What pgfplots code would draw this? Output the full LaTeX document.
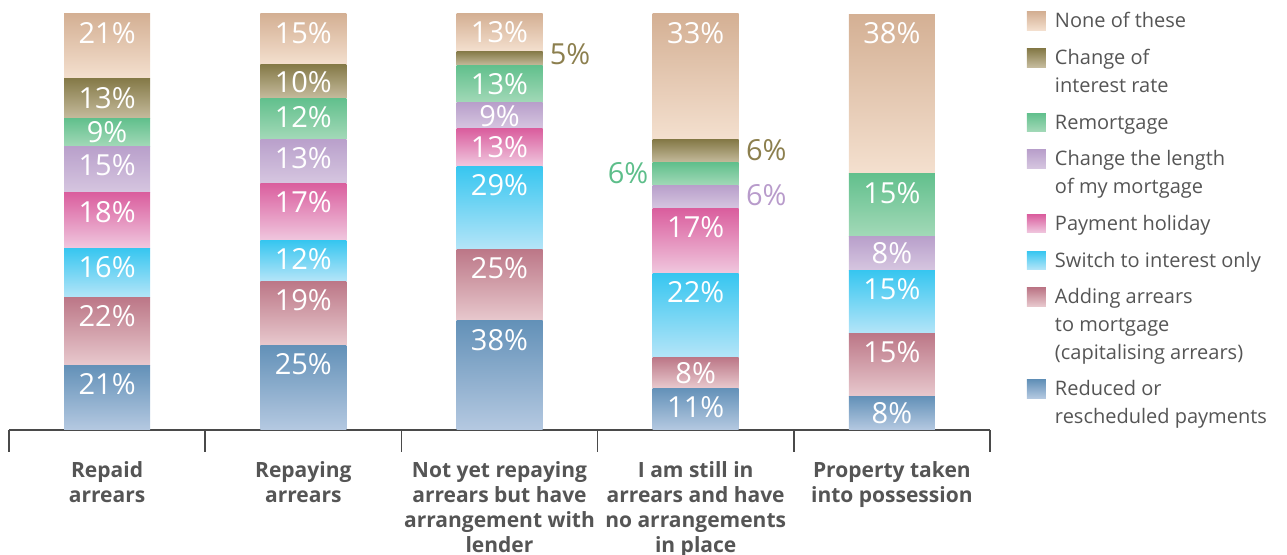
\documentclass[border=0pt]{standalone}
\usepackage{fontspec}
\setmainfont{Open Sans}
\usepackage{pgfplots}
\usepackage{pgfplotstable}
\pgfplotsset{compat=1.18}

\definecolor{noneT}{HTML}{D4B094} \definecolor{noneB}{HTML}{F4E0CF}
\definecolor{intT}{HTML}{857A48}  \definecolor{intB}{HTML}{C6BC9E}
\definecolor{remT}{HTML}{62C08D}  \definecolor{remB}{HTML}{A3D9B8}
\definecolor{lenT}{HTML}{B9A0CB}  \definecolor{lenB}{HTML}{D6C6E0}
\definecolor{payT}{HTML}{DA5E9E}  \definecolor{payB}{HTML}{F0C8DF}
\definecolor{swT}{HTML}{37C6F0}   \definecolor{swB}{HTML}{B5E5F8}
\definecolor{addT}{HTML}{BC7787}  \definecolor{addB}{HTML}{E8C9CE}
\definecolor{redT}{HTML}{6391B8}  \definecolor{redB}{HTML}{B5C9E1}
\definecolor{axisgray}{HTML}{4A4A4A}
\definecolor{textgray}{HTML}{555555}
\definecolor{intL}{HTML}{8C7F4E}
\definecolor{remL}{HTML}{5DBE8A}
\definecolor{lenL}{HTML}{B89BCB}

% values in %, bottom to top; t = total of the bar (bars are scaled to full height)
% a negative value marks a segment whose label is written outside the bar
\pgfplotstableread{
x t   red add sw pay len rem int none
0 135 21  22  16 18  15  9   13  21
1 123 25  19  12 17  13  12  10  15
2 145 38  25  29 13  9   13  -5  13
3 109 11  8   22 17  -6  -6  -6  33
4 99  8   15  15 0   8   15  0   38
}\data

\pgfplotsset{
  seg/.style={visualization depends on={abs(\thisrow{#1})*100/\thisrow{t} \as \segh}},
  only/.style={x filter/.expression={x==#1 ? x : nan}},
  base/.style={
    at={(0,0)}, anchor=south west,
    scale only axis, width=490.5pt, height=208pt,
    ybar stacked, bar width=43pt,
    xmin=-0.5, xmax=4.5, ymin=0, ymax=100,
    enlargelimits=false, clip=false,
    point meta=explicit symbolic,
    nodes near coords={\pgfmathparse{\pgfplotspointmeta>0}\ifnum\pgfmathresult=1 \pgfplotspointmeta\%\fi},
    every node near coord/.append style={anchor=center, inner sep=0pt,
      yshift={(1.04*\segh-min(1.04*\segh,9.5))*1pt},
      text=white, font=\fontsize{14.5}{14.5}\selectfont},
  },
}

% one bar (category #1), built from its eight segments, each segment its own path
\newcommand\segplots[1]{%
\addplot[draw=none, top color=redT, bottom color=redB, seg=red, legend image post style={yshift=13.8pt}, only=#1]
  table[x=x, y expr=abs(\thisrow{red})*100/\thisrow{t}, meta=red] {\data};
\addplot[draw=none, top color=addT, bottom color=addB, seg=add, legend image post style={yshift=27.6pt}, only=#1]
  table[x=x, y expr=abs(\thisrow{add})*100/\thisrow{t}, meta=add] {\data};
\addplot[draw=none, top color=swT, bottom color=swB, seg=sw, only=#1]
  table[x=x, y expr=abs(\thisrow{sw})*100/\thisrow{t}, meta=sw] {\data};
\addplot[draw=none, top color=payT, bottom color=payB, seg=pay, only=#1]
  table[x=x, y expr=abs(\thisrow{pay})*100/\thisrow{t}, meta=pay] {\data};
\addplot[draw=none, top color=lenT, bottom color=lenB, seg=len, legend image post style={yshift=13.8pt}, only=#1]
  table[x=x, y expr=abs(\thisrow{len})*100/\thisrow{t}, meta=len] {\data};
\addplot[draw=none, top color=remT, bottom color=remB, seg=rem, only=#1]
  table[x=x, y expr=abs(\thisrow{rem})*100/\thisrow{t}, meta=rem] {\data};
\addplot[draw=none, top color=intT, bottom color=intB, seg=int, legend image post style={yshift=13.8pt}, only=#1]
  table[x=x, y expr=abs(\thisrow{int})*100/\thisrow{t}, meta=int] {\data};
\addplot[draw=none, top color=noneT, bottom color=noneB, seg=none, only=#1]
  table[x=x, y expr=abs(\thisrow{none})*100/\thisrow{t}, meta=none] {\data};
}

\begin{document}
\begin{tikzpicture}
\path[use as bounding box] (-4.5pt,-62.5pt) rectangle (639pt,215pt);
% first bar, with the axis line, category labels and legend
\begin{axis}[
  base,
  axis x line*=bottom, axis y line=none,
  x axis line style={line width=0.75pt, draw=axisgray},
  xtick={-0.5,0.5,1.5,2.5,3.5,4.5}, xticklabels={},
  tick align=outside, major tick length=11pt,
  x tick style={line width=0.75pt, draw=axisgray},
  extra x ticks={0,1,2,3,4},
  extra x tick labels={Repaid\\arrears, Repaying\\arrears, Not yet repaying\\arrears but have\\arrangement with\\lender, I am still in\\arrears and have\\no arrangements\\in place, Property taken\\into possession},
  extra x tick style={major tick length=0pt, x tick style={draw=none},
    xticklabel style={anchor=north, align=center, inner sep=0pt, yshift=-15.5pt,
      text=textgray, font=\bfseries\fontsize{10.5}{12.5}\selectfont}},
  legend image code/.code={\path[#1] (0pt,-1.2pt) rectangle (9.5pt,8pt);},
  reverse legend,
  legend style={at={(1.0377,1.0048)}, anchor=north west, draw=none, fill=none,
    inner sep=0pt, outer sep=0pt, column sep=4.5pt, row sep=8.9pt,
    cells={anchor=base west},
    nodes={inner sep=0pt, align=left},
    font=\fontsize{10}{13.8}\selectfont, text=textgray},
]
\segplots{0}
\legend{{Reduced or\\rescheduled payments},
  {Adding arrears\\to mortgage\\(capitalising arrears)},
  {Switch to interest only},
  {Payment holiday},
  {Change the length\\of my mortgage},
  {Remortgage},
  {Change of\\interest rate},
  {None of these}}
\end{axis}
\begin{axis}[base, hide axis]
\segplots{1}
\end{axis}
\begin{axis}[base, hide axis]
\segplots{2}
% label written beside the bar (segment centre)
\node[anchor=west, xshift=25pt, inner sep=0pt, text=intL, font=\fontsize{14.5}{14.5}\selectfont] at (axis cs:2,90.3) {5\%};
\end{axis}
\begin{axis}[base, hide axis]
\segplots{3}
% labels written beside the bar (segment centres)
\node[anchor=west, xshift=25pt, inner sep=0pt, text=intL, font=\fontsize{14.5}{14.5}\selectfont] at (axis cs:3,67.2) {6\%};
\node[anchor=east, xshift=-23.5pt, inner sep=0pt, text=remL, font=\fontsize{14.5}{14.5}\selectfont] at (axis cs:3,61.7) {6\%};
\node[anchor=west, xshift=25pt, inner sep=0pt, text=lenL, font=\fontsize{14.5}{14.5}\selectfont] at (axis cs:3,56.5) {6\%};
\end{axis}
\begin{axis}[base, hide axis]
\segplots{4}
\end{axis}
\end{tikzpicture}
\end{document}
